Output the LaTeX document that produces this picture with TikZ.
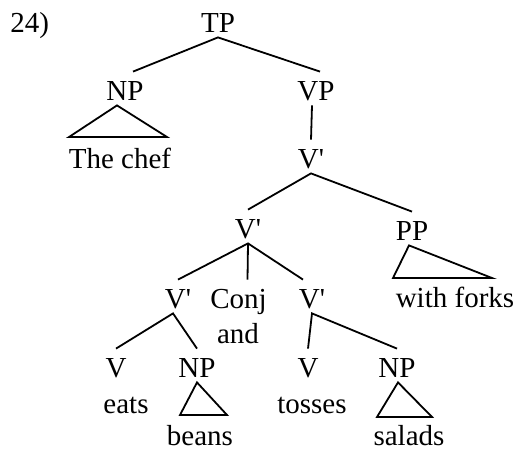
\documentclass[tikz,border=0pt]{standalone}
\usepackage{fontspec}
\setmainfont{Liberation Serif}
\begin{document}
\begin{tikzpicture}[x=0.5pt,y=-0.5pt,
  lbl/.style={anchor=base,inner xsep=0pt,inner ysep=1.25pt,text height=12.75pt,text depth=1.25pt,font=\fontsize{14.5}{16}\selectfont},
  leaf/.style={lbl,inner ysep=0pt,text height=14pt,text depth=0pt},
  edge/.style={line width=0.9pt,line join=miter},
  tri/.style={line width=0.9pt,line join=miter}]
\useasboundingbox (0,0) rectangle (517,451);
% nodes
\node[lbl,anchor=base west] (ex) at (10,32) {24)};
\node[lbl] (tp) at (218,32) {TP};
\node[lbl] (np1) at (125,100) {NP};
\node[lbl] (vp) at (316,100) {VP};
\node[lbl] (chef) at (120,168) {The chef};
\node[lbl] (vb1) at (311,168) {V\textquotesingle};
\node[lbl] (vb2) at (248,238) {V\textquotesingle};
\node[lbl] (pp) at (412,240) {PP};
\node[lbl] (forks) at (455,307) {with forks};
\node[lbl] (vb3) at (178,308) {V\textquotesingle};
\node[lbl] (conj) at (238.5,308) {Conj};
\node[lbl] (vb4) at (312,308) {V\textquotesingle};
\node[lbl] (and) at (238,343) {and};
\node[lbl] (v1) at (116,377) {V};
\node[lbl] (np2) at (197,377) {NP};
\node[lbl] (v2) at (308,377) {V};
\node[lbl] (np3) at (397,377) {NP};
\node[lbl] (eats) at (126,413) {eats};
\node[lbl] (tosses) at (312,413) {tosses};
\node[leaf] (beans) at (200,445) {beans};
\node[leaf] (salads) at (409,445) {salads};
% triangle base corners
\coordinate (t1l) at (69,137);
\coordinate (t1r) at (167,137);
\coordinate (t2l) at (393,278);
\coordinate (t2r) at (492,278);
\coordinate (t3l) at (180,415);
\coordinate (t3r) at (227,415);
\coordinate (t4l) at (377,417);
\coordinate (t4r) at (432,417);
% edges
\draw[edge] ([xshift=4pt]np1.north) -- (tp.south) -- ([xshift=2pt]vp.north);
\draw[edge] ([xshift=-2pt]vp.south) -- (vb1.north);
\draw[edge] (vb2.north) -- (vb1.south) -- (pp.north);
\draw[edge] (vb3.north) -- (vb2.south) -- ([xshift=-4.5pt]vb4.north);
\draw[edge] (vb2.south) -- ([xshift=4.5pt]conj.north);
\draw[edge] (v1.north) -- ([xshift=-2.5pt]vb3.south) -- (np2.north);
\draw[edge] (v2.north) -- (vb4.south) -- (np3.north);
% triangles
\draw[tri] ([xshift=-4pt]np1.south) -- (t1l) -- (t1r) -- cycle;
\draw[tri] ([xshift=-1.5pt]pp.south) -- (t2l) -- (t2r) -- cycle;
\draw[tri] (np2.south) -- (t3l) -- (t3r) -- cycle;
\draw[tri] ([xshift=0.5pt]np3.south) -- (t4l) -- (t4r) -- cycle;
\end{tikzpicture}
\end{document}
